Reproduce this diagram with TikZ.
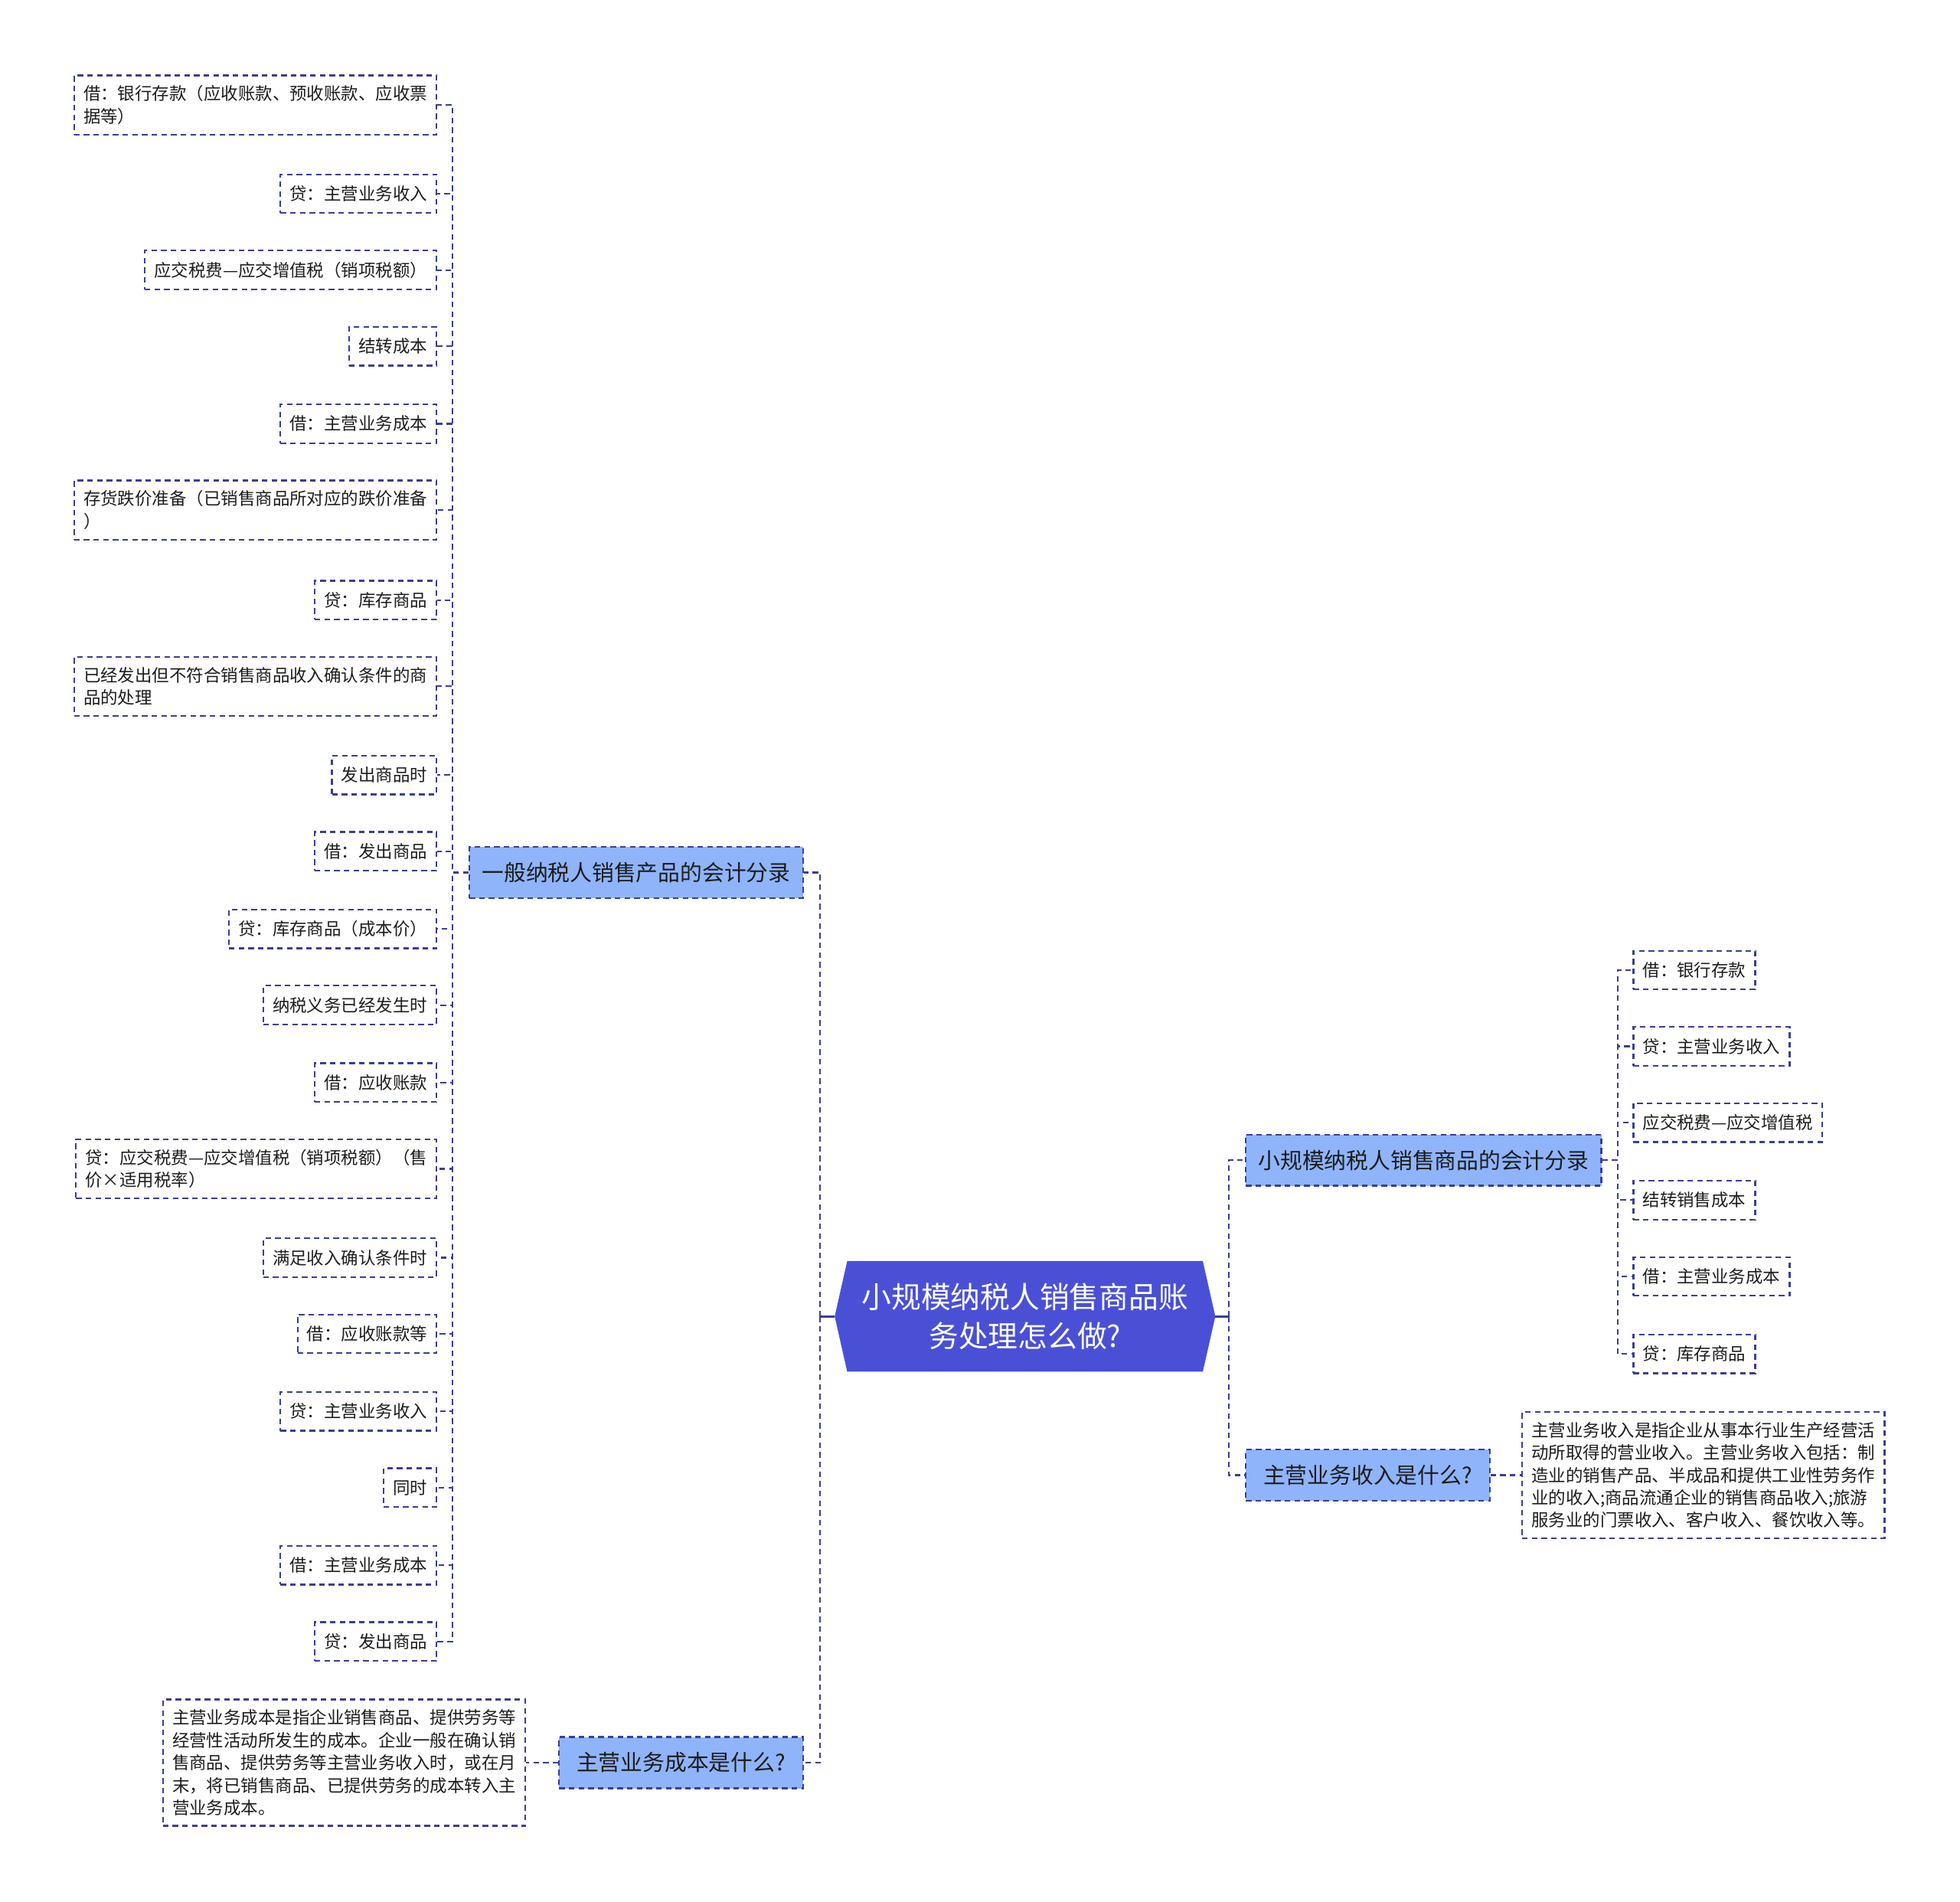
\documentclass[tikz,border=0pt]{standalone}
\usepackage{fontspec}
\newfontfamily\cjk{Noto Sans CJK SC}
\usetikzlibrary{backgrounds}
\definecolor{linecol}{RGB}{58,62,150}
\definecolor{subfill}{RGB}{143,180,250}
\definecolor{rootfill}{RGB}{74,80,214}
\definecolor{txtcol}{RGB}{28,28,28}

\begin{document}
\begin{tikzpicture}[x=0.8pt,y=-0.8pt,
	conn/.style={draw=linecol,line width=1.1pt,dash pattern=on 3.6pt off 2.6pt},
	leaf/.style={conn,align=left,inner xsep=6pt,inner ysep=6.5pt,minimum height=24.8pt,text=txtcol,font={\cjk\fontsize{11}{14.4}\selectfont}},
	sub/.style={conn,fill=subfill,inner xsep=8pt,minimum height=32.8pt,text=txtcol,font={\cjk\fontsize{14.1}{17}\selectfont}},
	rootnode/.style={text=white,align=center,minimum width=227.2pt,minimum height=70.4pt,font={\cjk\fontsize{19}{24.8}\selectfont}}]
	  \useasboundingbox (0,0) rectangle (1568,1521);
	  % centre
	  \node [rootnode] at (820,1053) (root) {小规模纳税人销售商品账\\务处理怎么做?};
	  \begin{scope}[on background layer]
	  	\fill [rootfill] (root.north west) -- (root.north east) -- ([xshift=8pt]root.east) -- (root.south east) -- (root.south west) -- ([xshift=-8pt]root.west) -- cycle;
	  \end{scope}
	  \coordinate (tipL) at ([xshift=-8pt]root.west);
	  \coordinate (tipR) at ([xshift=8pt]root.east);
	  \coordinate (jL) at (656,1053);
	  \coordinate (jR) at (983,1053);
	  % branches
	  \node [sub,anchor=east] at (643,698) (b1) {一般纳税人销售产品的会计分录};
	  \node [sub,anchor=west] at (996,928) (b2) {小规模纳税人销售商品的会计分录};
	  \node [sub,anchor=west,minimum width=156pt] at (996,1180) (b3) {主营业务收入是什么?};
	  \node [sub,anchor=east,minimum width=156pt] at (643,1410) (b4) {主营业务成本是什么?};
	  \draw [conn,solid,line width=1.4pt] (tipL) -- (jL) (tipR) -- (jR);
	  \draw [conn] (jL) |- (b1.east) (jL) |- (b4.east);
	  \draw [conn] (jR) |- (b2.west) (jR) |- (b3.west);
	  % left leaves
	  \coordinate (j1) at (362,698);
	  \foreach \i/\y/\lbl in {1/84/{借：银行存款（应收账款、预收账款、应收票\\据等）}, 2/155/{贷：主营业务收入}, 3/216/{应交税费—应交增值税（销项税额）}, 4/277/{结转成本}, 5/339/{借：主营业务成本}, 6/408/{存货跌价准备（已销售商品所对应的跌价准备\\）}, 7/480/{贷：库存商品}, 8/549/{已经发出但不符合销售商品收入确认条件的商\\品的处理}, 9/620/{发出商品时}, 10/681/{借：发出商品}, 11/743/{贷：库存商品（成本价）}, 12/804/{纳税义务已经发生时}, 13/866/{借：应收账款}, 14/935/{贷：应交税费—应交增值税（销项税额）（售\\价×适用税率）}, 15/1006/{满足收入确认条件时}, 16/1067/{借：应收账款等}, 17/1129/{贷：主营业务收入}, 18/1190/{同时}, 19/1252/{借：主营业务成本}, 20/1313/{贷：发出商品}}{
	  	\node [leaf,anchor=east] at (350,\y) (l\i) {\lbl};
	  	\draw [conn] (b1.west) -- (j1) |- (l\i.east);
	  }
	  % right leaves
	  \coordinate (j2) at (1294,928);
	  \foreach \i/\y/\lbl in {1/776/{借：银行存款}, 2/837/{贷：主营业务收入}, 3/898/{应交税费—应交增值税}, 4/960/{结转销售成本}, 5/1021/{借：主营业务成本}, 6/1083/{贷：库存商品}}{
	  	\node [leaf,anchor=west] at (1306,\y) (r\i) {\lbl};
	  	\draw [conn] (b2.east) -- (j2) |- (r\i.west);
	  }
	  % explanations
	  \node [leaf,anchor=west] at (1217,1180) (t3) {主营业务收入是指企业从事本行业生产经营活\\动所取得的营业收入。主营业务收入包括：制\\造业的销售产品、半成品和提供工业性劳务作\\业的收入;商品流通企业的销售商品收入;旅游\\服务业的门票收入、客户收入、餐饮收入等。};
	  \node [leaf,anchor=east] at (421,1410) (t4) {主营业务成本是指企业销售商品、提供劳务等\\经营性活动所发生的成本。企业一般在确认销\\售商品、提供劳务等主营业务收入时，或在月\\末，将已销售商品、已提供劳务的成本转入主\\营业务成本。};
	  \draw [conn] (b3.east) -- (t3.west) (b4.west) -- (t4.east);
\end{tikzpicture}
\end{document}
